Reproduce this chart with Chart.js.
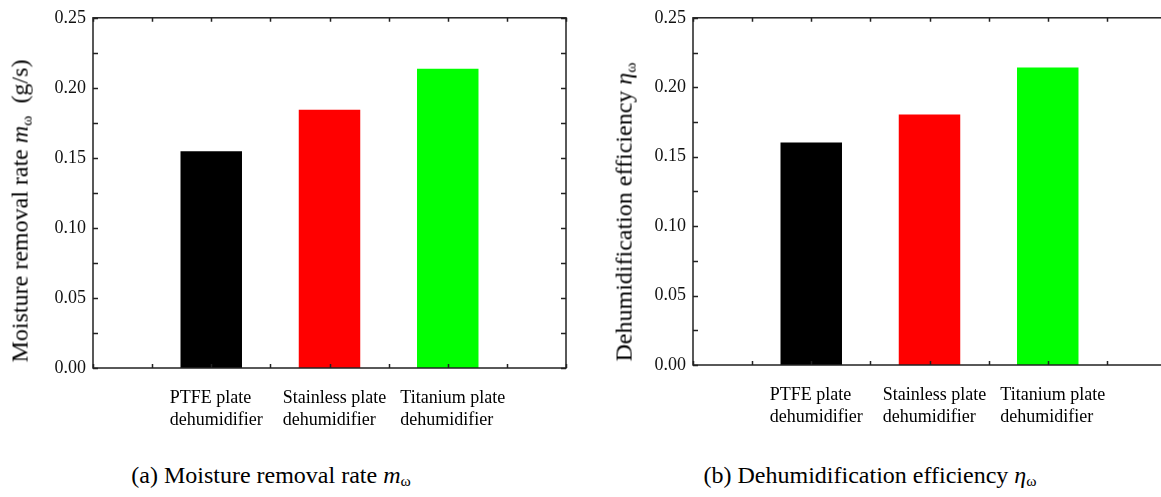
<!DOCTYPE html>
<html>
<head>
<meta charset="utf-8">
<script src="https://cdn.jsdelivr.net/npm/chart.js@4.4.1/dist/chart.umd.min.js"></script>
<style>
  html,body{margin:0;padding:0;background:#fff;overflow:hidden;width:1161px;height:497px;}
  body{position:relative;font-family:"Liberation Serif","Times New Roman",serif;color:#000;}
  .box{position:absolute;top:0;width:600px;height:445px;}
  .ytitle{position:absolute;white-space:nowrap;font-size:24px;transform:translate(-50%,-50%) rotate(-90deg);}
  .cap{position:absolute;white-space:nowrap;font-size:24px;transform:translate(-50%,-50%);}
  sub{font-size:65%;vertical-align:-0.25em;}
</style>
</head>
<body>
<div class="box" style="left:0"><canvas id="c1"></canvas></div>
<div class="box" style="left:600px"><canvas id="c2"></canvas></div>

<div class="ytitle" style="left:21px;top:211px">Moisture removal rate <i>m</i><sub>ω</sub> &nbsp;(g/s)</div>
<div class="ytitle" style="left:625px;top:212px">Dehumidification efficiency <i>η</i><sub>ω</sub></div>

<div class="cap" style="left:271px;top:476px">(a) Moisture removal rate <i>m</i><sub>ω</sub></div>
<div class="cap" style="left:870px;top:476px">(b) Dehumidification efficiency <i>η</i><sub>ω</sub></div>

<script>
const categories = [["PTFE plate","dehumidifier"],["Stainless plate","dehumidifier"],["Titanium plate","dehumidifier"]];
const positions = [1,2,3];
const barColors = ["#000000","#ff0000","#00ff00"];
const removalRate = [0.1548, 0.1844, 0.2136];
const efficiency = [0.1602, 0.1803, 0.2142];
const yTicks = [0,0.05,0.10,0.15,0.20,0.25];

// frame, inward ticks on all four sides, and left-aligned two-line category labels
const frameTicks = {
  id:"frameTicks",
  afterDraw(chart){
    const {ctx, chartArea:a, scales:{x,y}} = chart;
    ctx.save();
    ctx.strokeStyle = "#222";
    ctx.lineWidth = 1.5;
    ctx.strokeRect(a.left, a.top, a.right-a.left, a.bottom-a.top);
    ctx.beginPath();
    for(let v=0; v<=0.2501; v+=0.025){
      const p = Math.round(y.getPixelForValue(v))+0.5;
      ctx.moveTo(a.left, p); ctx.lineTo(a.left+5, p);
      ctx.moveTo(a.right, p); ctx.lineTo(a.right-5, p);
    }
    for(let v=0; v<=4; v+=0.5){
      const p = Math.round(x.getPixelForValue(v))+0.5;
      ctx.moveTo(p, a.bottom); ctx.lineTo(p, a.bottom-4);
      ctx.moveTo(p, a.top); ctx.lineTo(p, a.top+4);
    }
    ctx.stroke();

    ctx.fillStyle = "#000";
    ctx.font = '18px "Liberation Serif"';
    ctx.textAlign = "left";
    ctx.textBaseline = "alphabetic";
    categories.forEach((lines,i)=>{
      const cx = x.getPixelForValue(positions[i]);
      const w = Math.max(...lines.map(t=>ctx.measureText(t).width));
      const left = cx - w/2 + 5;
      lines.forEach((t,j)=>ctx.fillText(t, left, a.bottom + 35 + j*22));
    });
    ctx.restore();
  }
};

function drawChart(id, values, xHeight){
  return new Chart(document.getElementById(id),{
    type:"bar",
    data:{
      datasets:[{
        data: positions.map((p,i)=>({x:p, y:values[i]})),
        backgroundColor: barColors,
        borderWidth:0,
        barPercentage:0.52,
        categoryPercentage:1
      }]
    },
    options:{
      responsive:true,
      maintainAspectRatio:false,
      animation:false,
      layout:{padding:{top:16,right:34,left:0,bottom:0}},
      plugins:{legend:{display:false},tooltip:{enabled:false}},
      scales:{
        x:{
          type:"linear", min:0, max:4, offset:false,
          afterFit:s=>{s.height = xHeight;},
          afterBuildTicks:s=>{s.ticks = positions.map(v=>({value:v}));},
          grid:{display:false, drawTicks:false, offset:false},
          border:{display:false},
          ticks:{display:false}
        },
        y:{
          min:0, max:0.25,
          afterFit:s=>{s.width = 93;},
          grid:{display:false, drawTicks:false},
          border:{display:false},
          afterBuildTicks:s=>{s.ticks = yTicks.map(v=>({value:v}));},
          ticks:{
            padding:7, color:"#111",
            font:{family:"Liberation Serif", size:18},
            callback:v=>v.toFixed(2)
          }
        }
      }
    },
    plugins:[frameTicks]
  });
}

drawChart("c1", removalRate, 77);
drawChart("c2", efficiency, 80);
</script>
</body>
</html>
